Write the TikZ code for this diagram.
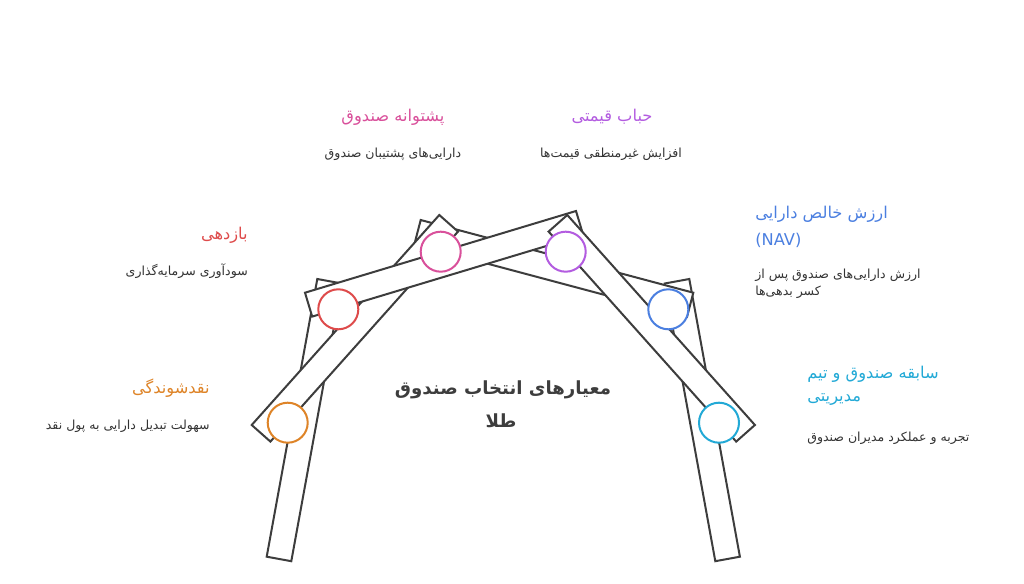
\documentclass[tikz,border=0pt]{standalone}
\usepackage{fontspec}
\setmainfont{DejaVu Sans}
\newfontfamily\fa[Script=Arabic]{DejaVu Sans}
\TeXXeTstate=1
\definecolor{corange}{HTML}{DE8428}
\definecolor{cred}{HTML}{DE4B4B}
\definecolor{cpink}{HTML}{D9509B}
\definecolor{cpurple}{HTML}{B35CE0}
\definecolor{cblue}{HTML}{4B7FE0}
\definecolor{ccyan}{HTML}{22A9D6}
\definecolor{plankc}{HTML}{3D3D3D}
\definecolor{descc}{HTML}{333333}
\begin{document}
\begin{tikzpicture}[x=0.75pt,y=-0.75pt,
  plank/.style={draw=plankc,fill=white,line width=1.5pt,line join=miter},
  circ/.style={draw=#1,fill=white,circle,line width=1.5pt,minimum size=30pt,inner sep=0pt},
  ttl/.style={text=#1,font=\fa\fontsize{12.2}{14}\selectfont,inner sep=0pt},
  dsc/.style={text=descc,font=\fa\fontsize{9.4}{11}\selectfont,inner sep=0pt},
  ctr/.style={text=plankc,font=\fa\bfseries\fontsize{13.6}{17}\selectfont,inner sep=0pt}]
\useasboundingbox (0,0) rectangle (1024,584);
% planks (order gives overlap)
\draw[plank] (266.7,556.7) -- (291.3,561.2) -- (341.9,283.5) -- (317.3,279) -- cycle; % left leg
\draw[plank] (739.9,556.7) -- (715.3,561.2) -- (664.7,283.5) -- (689.3,279) -- cycle; % right leg
\draw[plank] (693.3,292.7) -- (687,316.9) -- (414.4,244.2) -- (420.7,220) -- cycle; % blue plank
\draw[plank] (251.7,425) -- (270.4,441.6) -- (458,231.6) -- (439.3,215) -- cycle; % orange plank
\draw[plank] (305,292.7) -- (312.2,316.6) -- (583.2,234.9) -- (576,211) -- cycle; % red plank
\draw[plank] (754.9,425) -- (736.2,441.6) -- (548.6,231.6) -- (567.3,215) -- cycle; % cyan plank
% circles
\node[circ=corange] (c1) at (287.7,422.7) {};
\node[circ=cred] (c2) at (338.3,309.3) {};
\node[circ=cpink] (c3) at (440.7,251.7) {};
\node[circ=cpurple] (c4) at (565.7,251.7) {};
\node[circ=cblue] (c5) at (668.3,309.3) {};
\node[circ=ccyan] (c6) at (719,422.7) {};
% center title
\node[ctr] (m1) at (503,390) {\beginR معیارهای انتخاب صندوق\endR};
\node[ctr] (m2) at (501,421) {\beginR طلا\endR};
% labels
\node[ttl=corange,anchor=east] (t1) at (210,388) {\beginR نقدشوندگی\endR};
\node[dsc,anchor=east] (d1) at (210,426) {\beginR سهولت تبدیل دارایی به پول نقد\endR};
\node[ttl=cred,anchor=east] (t2) at (248,235) {\beginR بازدهی\endR};
\node[dsc,anchor=east] (d2) at (248,271) {\beginR سودآوری سرمایه^^^^200cگذاری\endR};
\node[ttl=cpink] (t3) at (393,117) {\beginR پشتوانه صندوق\endR};
\node[dsc] (d3) at (393,154) {\beginR دارایی^^^^200cهای پشتیبان صندوق\endR};
\node[ttl=cpurple] (t4) at (612,117) {\beginR حباب قیمتی\endR};
\node[dsc] (d4) at (611,154) {\beginR افزایش غیرمنطقی قیمت^^^^200cها\endR};
\node[ttl=cblue,anchor=west] (t5a) at (755,214) {\beginR ارزش خالص دارایی\endR};
\node[ttl=cblue,anchor=west,font=\fontsize{12.2}{14}\selectfont] (t5b) at (755,240) {(NAV)};
\node[dsc,anchor=west] (d5a) at (755,275) {\beginR ارزش دارایی^^^^200cهای صندوق پس از\endR};
\node[dsc,anchor=west] (d5b) at (755,292) {\beginR کسر بدهی^^^^200cها\endR};
\node[ttl=ccyan,anchor=west] (t6a) at (807,374) {\beginR سابقه صندوق و تیم\endR};
\node[ttl=ccyan,anchor=west] (t6b) at (807,400) {\beginR مدیریتی\endR};
\node[dsc,anchor=west] (d6) at (807,438) {\beginR تجربه و عملکرد مدیران صندوق\endR};
\end{tikzpicture}
\end{document}
